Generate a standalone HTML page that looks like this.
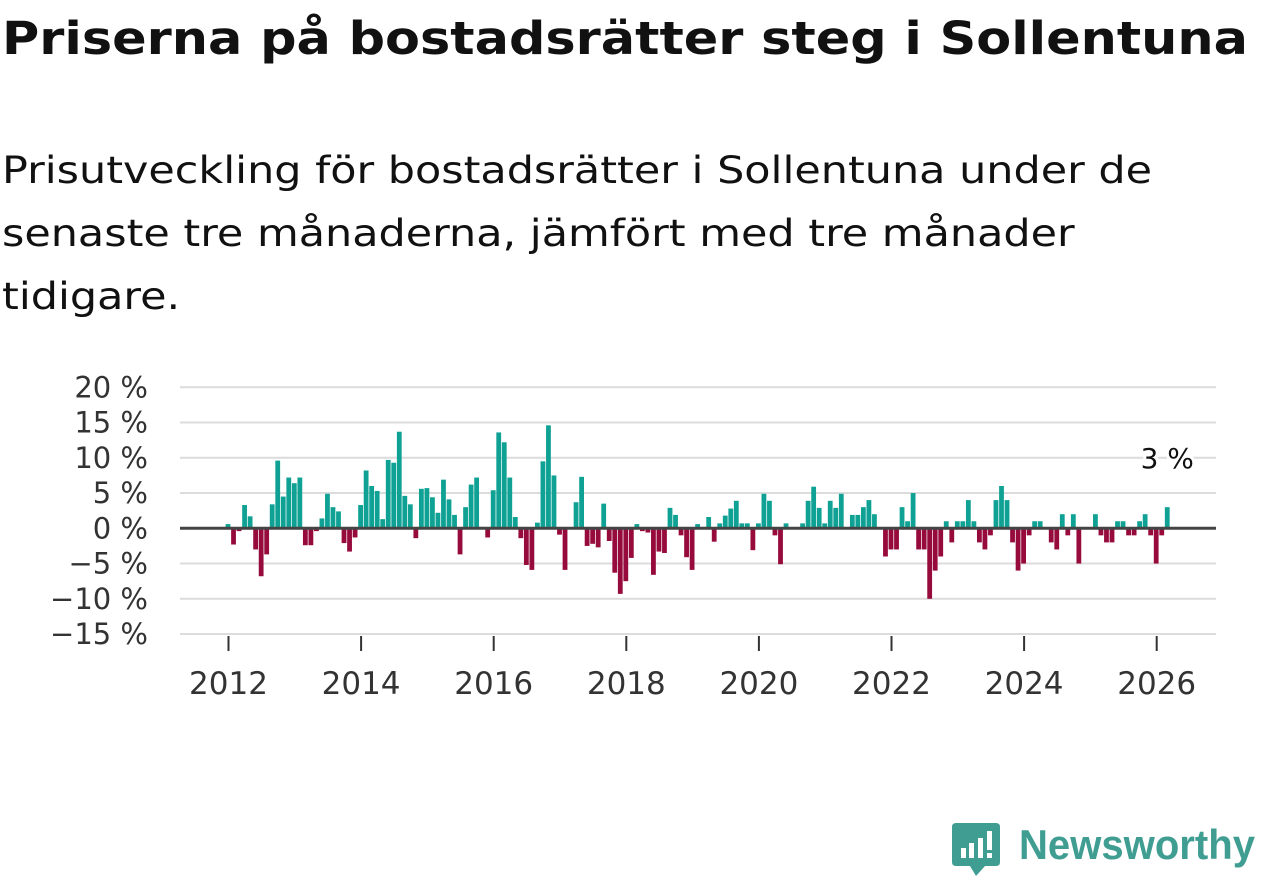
<!DOCTYPE html>
<html><head><meta charset="utf-8">
<style>
body{margin:0;width:1262px;height:879px;background:#fff;font-family:"DejaVu Sans","Liberation Sans",sans-serif;color:#111;overflow:hidden;position:relative}
h1{position:absolute;left:2px;top:12px;margin:0;font-size:45px;font-weight:bold;white-space:nowrap;transform-origin:0 0;transform:scaleX(1.0)}
.sub{position:absolute;left:2px;top:139px;margin:0;font-size:37px;line-height:63px;width:1300px;white-space:nowrap}
svg{position:absolute;left:0;top:0}
</style></head><body>
<h1 id="ttl">Priserna på bostadsrätter steg i Sollentuna</h1>
<p class="sub"><span id="s1">Prisutveckling för bostadsrätter i Sollentuna under de</span><br>senaste tre månaderna, jämfört med tre månader<br>tidigare.</p>
<svg id="chart" width="1262" height="879"></svg>
<div style="position:absolute;left:952px;top:820px;width:310px;height:58px">
<svg width="50" height="58" style="position:absolute;left:0;top:0"><path d="M4 3 H44 Q48 3 48 7 V42 Q48 46 44 46 H33 L24 56 L18 46 H4 Q0 46 0 42 V7 Q0 3 4 3Z" fill="#3f9d92"/><rect x="9" y="28" width="5" height="10" fill="#fff"/><rect x="17" y="23" width="5" height="15" fill="#fff"/><rect x="26" y="18" width="5" height="20" fill="#fff"/><rect x="35" y="11" width="5" height="19" fill="#fff"/><rect x="35" y="33" width="5" height="5" fill="#fff"/></svg>
<span id="nw" style="position:absolute;left:67px;top:1px;font-size:42px;color:#3f9d92;font-family:'Liberation Sans',sans-serif;font-weight:bold;white-space:nowrap;transform-origin:0 0">Newsworthy</span>
</div>
<script>
const categoriesStart = [2012, 1];
const values = [
0.6,-2.3,-0.4,3.3,1.7,-3,-6.8,-3.7,3.4,9.6,4.5,7.2,
6.4,7.2,-2.4,-2.4,-0.4,1.4,4.9,3.0,2.4,-2.1,-3.3,-1.3,
3.3,8.2,6.0,5.3,1.3,9.7,9.3,13.7,4.6,3.4,-1.4,5.6,
5.7,4.4,2.2,6.9,4.1,1.9,-3.7,3.0,6.2,7.2,0.2,-1.3,
5.4,13.6,12.2,7.2,1.6,-1.4,-5.2,-5.9,0.8,9.5,14.6,7.5,
-0.9,-5.9,0,3.7,7.3,-2.5,-2.2,-2.7,3.5,-1.8,-6.3,-9.3,
-7.5,-4.2,0.6,-0.4,-0.6,-6.6,-3.3,-3.5,2.9,1.9,-1.0,-4.1,
-5.9,0.6,0,1.6,-1.9,0.7,1.8,2.8,3.9,0.7,0.7,-3.1,
0.7,4.9,3.9,-1.0,-5.1,0.7,0,0,0.7,3.9,5.9,2.9,
0.7,3.9,2.9,4.9,0,1.9,1.9,3,4,2,0,-4,
-3,-3,3,1,5,-3,-3,-10,-6,-4,1,-2,
1,1,4,1,-2,-3,-1,4,6,4,-2,-6,
-5,-1,1,1,0,-2,-3,2,-1,2,-5,0,
0,2,-1,-2,-2,1,1,-1,-1,1,2,-1,
-5,-1,3];
const yTicks = [20,15,10,5,0,-5,-10,-15];
const xTicks = [2012,2014,2016,2018,2020,2022,2024,2026];
const lastLabel = "3 %";
(function(){
 const t=document.getElementById('ttl');const w=t.getBoundingClientRect().width;
 t.style.transform='scaleX('+(1246/w)+')';
 const s=document.getElementById('s1');const sw=s.getBoundingClientRect().width;
 const p=s.parentNode;p.style.transformOrigin='0 0';p.style.transform='scaleX('+(1150/sw)+')';
 const n=document.getElementById('nw');const nw=n.getBoundingClientRect().width;
 n.style.transform='scaleX('+(236/nw)+')';
})();
const NS="http://www.w3.org/2000/svg";
const svg=document.getElementById('chart');
const x0=180,x1=1216;
const FF='DejaVu Sans, Liberation Sans, sans-serif';
function y(v){return 528.3-v*7.05;}
function xm(i){return 228+5.525*i;}
function xYear(yr){return 228.5+(yr-2012)*66.3;}
function mk(t,a){const e=document.createElementNS(NS,t);for(const k in a)e.setAttribute(k,a[k]);svg.appendChild(e);return e;}
yTicks.forEach(t=>{
 const l=mk('line',{x1:x0,x2:x1,y1:y(t),y2:y(t),stroke:'#dcdcdc','stroke-width':2});
 
 
 const tx=mk('text',{x:148,y:y(t)+10,'text-anchor':'end','font-size':29,fill:'#333','font-family':FF});
 tx.textContent=(t<0?'\u2212'+(-t):t)+' %';
 
 
});
xTicks.forEach(t=>{
 const tk=mk('line',{x1:xYear(t),x2:xYear(t),y1:636,y2:651,stroke:'#333','stroke-width':2});
 
 
 const tx=mk('text',{x:xYear(t),y:694,'text-anchor':'middle','font-size':31,fill:'#333','font-family':FF});
 tx.textContent=t;
 
 
});
values.forEach((v,i)=>{
 const cx=xm(i);
 const r=mk('rect',{x:cx-2.4,width:4.8,y:Math.min(y(v),y(0)),height:Math.abs(y(v)-y(0)),fill:v>=0?'#0fa294':'#960a3c'});
 
 
});
const z=mk('line',{x1:x0,x2:x1,y1:y(0),y2:y(0),stroke:'#444','stroke-width':3});


const li=values.length-1;
const lb=mk('text',{x:xm(li),y:y(values[li])-39,'text-anchor':'middle','font-size':28,fill:'#111',stroke:'#fff','stroke-width':6,'paint-order':'stroke','font-family':FF});
lb.textContent=lastLabel;


</script>
</body></html>
